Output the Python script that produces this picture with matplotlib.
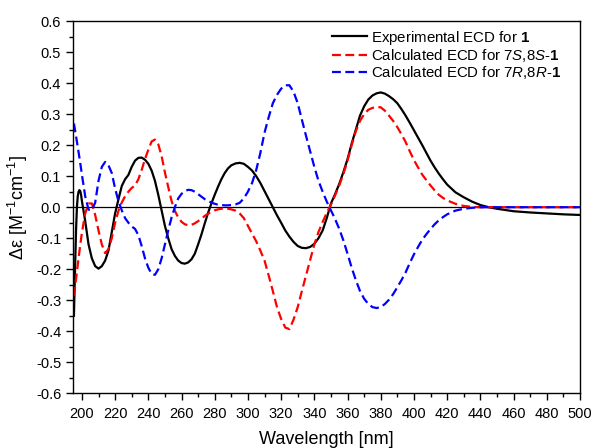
import matplotlib
matplotlib.use("Agg")
import matplotlib.pyplot as plt
from matplotlib.ticker import MultipleLocator

plt.rcParams['font.family'] = ['Liberation Sans', 'DejaVu Sans']
plt.rcParams['mathtext.fontset'] = 'custom'
plt.rcParams['mathtext.rm'] = 'Liberation Sans'
plt.rcParams['mathtext.it'] = 'Liberation Sans:italic'
plt.rcParams['mathtext.bf'] = 'Liberation Sans:bold'

# wavelengths (nm)
wl = [195.2, 195.6, 196, 196.5, 197, 197.5, 198, 198.5, 199, 199.5, 200,
      202, 204, 206, 208, 210, 212, 214, 216, 218, 220,
      222, 224, 226, 228, 230, 232, 234, 236, 238, 240,
      242, 244, 246, 248, 250, 252, 254, 256, 258, 260,
      262, 264, 266, 268, 270, 272, 274, 276, 278, 280,
      282, 284, 286, 288, 290, 292.5,
      295, 297.5, 300, 302.5, 305, 307.5, 310, 312.5, 315, 317.5,
      320, 322.5, 325, 327.5, 330, 332.5, 335, 337.5, 340, 342.5,
      345, 347.5, 350, 352.5, 355, 357.5, 360, 362.5, 365, 367.5,
      370, 372.5, 375, 377.5, 380, 382.5, 385, 387.5, 390, 392.5,
      395, 397.5, 400, 402.5, 405, 407.5, 410, 412.5, 415, 417.5,
      420, 425, 430, 435, 440, 445, 450, 460, 470, 480, 490, 500]

# experimental ECD
exp_ecd = [-0.35, -0.26, -0.17, -0.07, 0.0, 0.035, 0.05, 0.055, 0.052, 0.04, 0.02,
           -0.045, -0.12, -0.165, -0.19, -0.198, -0.19, -0.172, -0.14, -0.08, -0.02,
           0.025, 0.068, 0.09, 0.104, 0.13, 0.15, 0.159, 0.16, 0.153, 0.14,
           0.118, 0.085, 0.04, -0.01, -0.06, -0.1, -0.135, -0.157, -0.172, -0.18,
           -0.182, -0.178, -0.168, -0.15, -0.12, -0.088, -0.052, -0.018, 0.012, 0.04,
           0.066, 0.09, 0.11, 0.125, 0.135, 0.141,
           0.143, 0.14, 0.13, 0.118, 0.1, 0.078, 0.052, 0.026, 0.0, -0.026,
           -0.05, -0.075, -0.095, -0.112, -0.125, -0.131, -0.132, -0.128, -0.118, -0.1,
           -0.075, -0.035, 0.012, 0.042, 0.075, 0.113, 0.155, 0.205, 0.25, 0.295,
           0.325, 0.347, 0.36, 0.367, 0.37, 0.366, 0.358, 0.348, 0.335, 0.316,
           0.295, 0.272, 0.248, 0.224, 0.2, 0.175, 0.15, 0.128, 0.108, 0.09,
           0.073, 0.048, 0.032, 0.018, 0.007, 0.0, -0.005, -0.013, -0.017, -0.02, -0.023, -0.025]

# calculated ECD 7S,8S
calc_ss = [-0.285, -0.27, -0.252, -0.23, -0.208, -0.186, -0.164, -0.143, -0.122, -0.102, -0.082,
           -0.02, 0.012, 0.012, -0.025, -0.075, -0.12, -0.148, -0.135, -0.1, -0.05,
           -0.012, 0.015, 0.035, 0.05, 0.062, 0.07, 0.09, 0.12, 0.155, 0.185,
           0.212, 0.218, 0.203, 0.165, 0.112, 0.065, 0.02, -0.012, -0.033, -0.047,
           -0.055, -0.058, -0.057, -0.052, -0.045, -0.037, -0.028, -0.021, -0.015, -0.01,
           -0.007, -0.005, -0.004, -0.005, -0.007, -0.011,
           -0.02, -0.035, -0.06, -0.085, -0.11, -0.14, -0.172, -0.22, -0.27, -0.322,
           -0.36, -0.388, -0.393, -0.362, -0.322, -0.27, -0.22, -0.17, -0.12, -0.08,
           -0.048, -0.018, 0.008, 0.038, 0.07, 0.107, 0.15, 0.2, 0.245, 0.278,
           0.3, 0.314, 0.32, 0.323, 0.322, 0.311, 0.295, 0.278, 0.258, 0.235,
           0.21, 0.18, 0.152, 0.128, 0.105, 0.087, 0.07, 0.054, 0.04, 0.03,
           0.022, 0.011, 0.004, 0.001, 0.0, 0.0, 0.0, 0.0, 0.0, 0.0, 0.0, 0.0]

# calculated ECD 7R,8R
calc_rr = [0.27, 0.257, 0.244, 0.228, 0.211, 0.194, 0.177, 0.16, 0.142, 0.124, 0.105,
           0.035, -0.008, -0.01, 0.015, 0.085, 0.13, 0.146, 0.135, 0.11, 0.06,
           0.02, -0.01, -0.035, -0.05, -0.062, -0.07, -0.09, -0.125, -0.165, -0.195,
           -0.215, -0.218, -0.2, -0.165, -0.12, -0.075, -0.033, 0.0, 0.028, 0.043,
           0.052, 0.056, 0.055, 0.05, 0.042, 0.034, 0.026, 0.02, 0.015, 0.011,
           0.008, 0.007, 0.006, 0.006, 0.007, 0.009,
           0.014, 0.028, 0.05, 0.078, 0.12, 0.175, 0.24, 0.29, 0.335, 0.362,
           0.382, 0.393, 0.393, 0.372, 0.335, 0.282, 0.23, 0.18, 0.13, 0.085,
           0.05, 0.018, -0.01, -0.038, -0.07, -0.107, -0.15, -0.195, -0.235, -0.27,
           -0.295, -0.312, -0.322, -0.325, -0.322, -0.312, -0.298, -0.28, -0.258, -0.235,
           -0.21, -0.18, -0.152, -0.128, -0.105, -0.087, -0.07, -0.055, -0.042, -0.032,
           -0.023, -0.011, -0.005, -0.002, 0.0, 0.0, 0.0, 0.0, 0.0, 0.0, 0.0, 0.0]

fig = plt.figure(figsize=(5.93, 4.48), dpi=100)
ax = fig.add_axes([0.123, 0.122, 0.855, 0.831])

ax.axhline(0, color='black', lw=0.9, zorder=1)
ax.plot(wl, exp_ecd, color='black', lw=1.6, label=r'Experimental ECD for $\bf{1}$')
ax.plot(wl, calc_ss, color='red', lw=1.6, dashes=(4, 2),
        label=r'Calculated ECD for 7$\it{S}$,8$\it{S}$-$\bf{1}$')
ax.plot(wl, calc_rr, color='blue', lw=1.6, dashes=(4, 2),
        label=r'Calculated ECD for 7$\it{R}$,8$\it{R}$-$\bf{1}$')

ax.set_xlim(194.6, 500)
ax.set_ylim(-0.6, 0.6)
ax.xaxis.set_major_locator(MultipleLocator(20))
ax.xaxis.set_minor_locator(MultipleLocator(10))
ax.yaxis.set_minor_locator(MultipleLocator(0.05))
ax.set_yticks([-0.6, -0.5, -0.4, -0.3, -0.2, -0.1, 0.0, 0.1, 0.2, 0.3, 0.4, 0.5, 0.6])
ax.set_yticklabels(['-0.6', '-0.5', '-0.4', '-0.3', '-0.2', '-0.1', '0.0',
                    '0.1', '0.2', '0.3', '0.4', '0.5', '0.6'])
ax.tick_params(which='major', direction='out', length=5, width=1, labelsize=10.5)
ax.tick_params(axis='x', which='major', pad=5)
ax.tick_params(which='minor', direction='out', length=3, width=1)
for s in ax.spines.values():
    s.set_linewidth(1)

ax.set_xlabel('Wavelength [nm]', fontsize=13, labelpad=7)
ax.set_ylabel('Δε [M$^{-1}$cm$^{-1}$]', fontsize=13, labelpad=4)

ax.legend(loc='upper right', bbox_to_anchor=(0.974, 0.996), frameon=False,
          fontsize=10.8, handlelength=2.3, handletextpad=0.27, labelspacing=0.02,
          borderaxespad=0)

fig.savefig('out.png', dpi=100)
